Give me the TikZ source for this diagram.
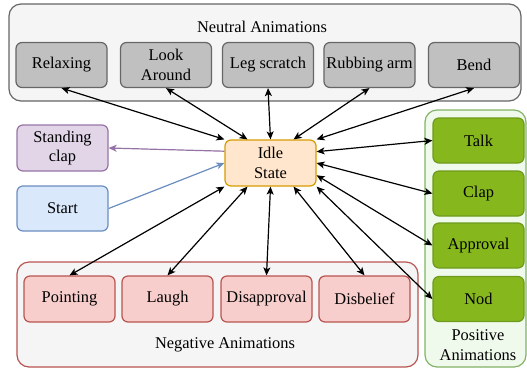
\documentclass[tikz,border=0pt]{standalone}
\usepackage{fontspec}
\setmainfont{Liberation Serif}[Ligatures=TeX]
\newfontfamily\lmfont{Latin Modern Roman}
\usetikzlibrary{arrows.meta,calc}
\definecolor{neutbg}{HTML}{F5F5F5}
\definecolor{neutbd}{HTML}{666666}
\definecolor{neutbox}{HTML}{C0C0C0}
\definecolor{idlebg}{HTML}{FFE6CC}
\definecolor{idlebd}{HTML}{D79B00}
\definecolor{purbg}{HTML}{E1D5E7}
\definecolor{purbd}{HTML}{9673A6}
\definecolor{blubg}{HTML}{DAE8FC}
\definecolor{blubd}{HTML}{6C8EBF}
\definecolor{negbg}{HTML}{F5F5F5}
\definecolor{negbd}{HTML}{B85450}
\definecolor{negbox}{HTML}{F8CECC}
\definecolor{posbg}{HTML}{F0FAEC}
\definecolor{posbd}{HTML}{82B366}
\definecolor{posbox}{HTML}{86B81E}
\definecolor{posboxbd}{HTML}{6E9A1E}
\begin{document}
\begin{tikzpicture}[x=1pt,y=-1pt,
  font=\rmfamily\fontsize{16.4}{19.5}\selectfont,
  group/.style={draw, line width=1.2pt, rounded corners=12pt, inner sep=0pt},
  box/.style={draw, line width=1.2pt, rounded corners=6pt, minimum width=91pt, minimum height=45pt, align=center, inner sep=0pt},
  gbox/.style={box, fill=neutbox, draw=neutbd},
  rbox/.style={box, fill=negbox, draw=negbd},
  pbox/.style={box, fill=posbox, draw=posboxbd},
  title/.style={align=center, inner sep=0pt},
  link/.style={line width=1.2pt, {Stealth[length=8pt,width=7pt,inset=2pt]}-{Stealth[length=8pt,width=7pt,inset=2pt]}},
  one/.style={line width=1.2pt, -{Stealth[length=8pt,width=7pt,inset=2pt]}}
]
\useasboundingbox (0,0) rectangle (527,368);

% groups
\node[group, fill=neutbg, draw=neutbd, minimum width=512pt, minimum height=97pt] (neutral) at (265,52.5) {};
\node[group, fill=posbg, draw=posbd, minimum width=101pt, minimum height=257pt] (positive) at (475.5,238.5) {};
\node[group, fill=negbg, draw=negbd, minimum width=401pt, minimum height=105pt] (negative) at (217.5,314.5) {};

\node[title] (ntitle) at (262,27) {Neutral Animations};
\node[title] (ptitle) at (478,345) {Positive\\Animations};
\node[title] (rtitle) at (225,345) {Negative Animations};

% neutral boxes
\node[gbox] (relax) at (61.5,65) {Relaxing};
\node[gbox] (look) at (166,65) {Look\\Around};
\node[gbox] (leg) at (268,65) {Leg scratch};
\node[gbox] (rub) at (369.5,65) {Rubbing arm};
\node[gbox] (bend) at (474,65) {Bend};

% centre
\node[box, fill=idlebg, draw=idlebd, minimum height=46pt] (idle) at (270.5,163) {Idle\\State};
\node[box, fill=purbg, draw=purbd, minimum height=46pt] (stand) at (62.5,148) {Standing\\clap};
\node[box, fill=blubg, draw=blubd] (start) at (62.5,208.5) {Start};

% positive
\node[pbox] (talk) at (478.5,140.5) {Talk};
\node[pbox] (clap) at (478.5,193.5) {Clap};
\node[pbox] (appr) at (478.5,245.5) {Approval};
\node[pbox] (nod) at (478.5,299) {Nod};

% negative
\node[rbox, minimum height=46pt] (point) at (69.5,299) {Pointing};
\node[rbox, minimum height=46pt] (laugh) at (167.5,299) {Laugh};
\node[rbox, minimum height=46pt] (disap) at (266.5,299) {Disapproval};
\node[rbox, minimum height=46pt] (disbe) at (364.5,299) {Disbelief};

% connectors
\draw[link] (relax.south) -- (idle.north west);
\draw[link] (look.south) -- ($(idle.north west)!0.25!(idle.north east)$);
\draw[link] (leg.south) -- (idle.north);
\draw[link] (rub.south) -- ($(idle.north west)!0.75!(idle.north east)$);
\draw[link] (bend.south) -- (idle.north east);

\draw[link] (talk.west) -- ($(idle.north east)!0.26!(idle.south east)$);
\draw[link] (clap.west) -- (idle.east);
\draw[link] (appr.west) -- ($(idle.north east)!0.76!(idle.south east)$);
\draw[link] (nod.west) -- (idle.south east);

\draw[link] (point.north) -- (idle.south west);
\draw[link] (laugh.north) -- ($(idle.south west)!0.25!(idle.south east)$);
\draw[link] (disap.north) -- (idle.south);
\draw[link] (disbe.north) -- ($(idle.south west)!0.75!(idle.south east)$);

\draw[one, draw=purbd, fill=purbd] ($(idle.north west)!0.25!(idle.south west)$) -- (stand.east);
\draw[one, draw=blubd, fill=blubd] (start.east) -- (idle.west);
\end{tikzpicture}
\end{document}
